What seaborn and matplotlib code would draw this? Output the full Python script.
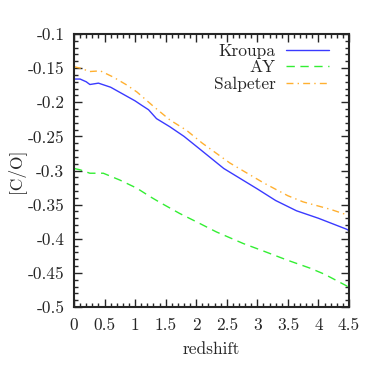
import numpy as np
import pandas as pd
import seaborn as sns
import matplotlib
matplotlib.use('Agg')
import matplotlib.pyplot as plt
from matplotlib.ticker import MultipleLocator, FuncFormatter

# values
z_kroupa = [0.0, 0.1, 0.2, 0.26, 0.4, 0.6, 0.8, 1.0, 1.1, 1.22, 1.35, 1.57, 1.8, 2.05, 2.45, 3.0, 3.3, 3.64, 4.0, 4.46, 4.5]
co_kroupa = [-0.166, -0.166, -0.170, -0.174, -0.172, -0.178, -0.188, -0.198, -0.204, -0.211, -0.224, -0.236, -0.250, -0.268, -0.297, -0.327, -0.344, -0.359, -0.370, -0.386, -0.388]

z_ay = [0.0, 0.1, 0.26, 0.48, 0.75, 1.03, 1.24, 1.41, 1.73, 2.0, 2.33, 2.77, 3.1, 3.48, 3.86, 4.1, 4.46, 4.5]
co_ay = [-0.297, -0.299, -0.304, -0.304, -0.314, -0.326, -0.338, -0.347, -0.363, -0.375, -0.390, -0.407, -0.418, -0.431, -0.443, -0.452, -0.469, -0.472]

z_salp = [0.0, 0.1, 0.26, 0.43, 0.64, 0.85, 1.03, 1.3, 1.57, 1.84, 2.1, 2.55, 3.1, 3.5, 3.75, 4.2, 4.5]
co_salp = [-0.148, -0.150, -0.155, -0.154, -0.163, -0.174, -0.185, -0.206, -0.226, -0.241, -0.260, -0.289, -0.318, -0.337, -0.346, -0.357, -0.366]

sns.set_style('ticks')
plt.rcParams['font.family'] = ['cmr10', 'DejaVu Serif']
plt.rcParams['axes.unicode_minus'] = False
plt.rcParams['font.size'] = 12.5

fig = plt.figure(figsize=(3.74, 3.74), dpi=100)
ax = fig.add_axes([74/374, 67/374, 275/374, 273/374])

sns.lineplot(x=z_kroupa, y=co_kroupa, ax=ax, color='#3a3aff', lw=1.0, label='Kroupa')
sns.lineplot(x=z_ay, y=co_ay, ax=ax, color='#33ee33', lw=1.0, label='AY')
sns.lineplot(x=z_salp, y=co_salp, ax=ax, color='#ffb030', lw=1.0, label='Salpeter')
ax.lines[1].set_dashes([6, 4])
ax.lines[2].set_dashes([5, 3, 1, 3])

ax.set_xlim(0, 4.5)
ax.set_ylim(-0.5, -0.1)
ax.xaxis.set_major_locator(MultipleLocator(0.5))
ax.xaxis.set_minor_locator(MultipleLocator(0.1))
ax.yaxis.set_major_locator(MultipleLocator(0.05))
ax.yaxis.set_minor_locator(MultipleLocator(0.01))
ax.xaxis.set_major_formatter(FuncFormatter(lambda v, p: '%g' % round(v, 2)))
ax.yaxis.set_major_formatter(FuncFormatter(lambda v, p: '%g' % round(v, 2)))
ax.tick_params(which='both', direction='in', top=True, right=True, width=1.0)
ax.tick_params(which='major', length=6, pad=7)
ax.tick_params(axis='x', which='major', pad=8)
ax.tick_params(which='minor', length=3)
for s in ax.spines.values():
    s.set_linewidth(1.5)

ax.set_xlabel('redshift', labelpad=6)
ax.set_ylabel('[C/O]', labelpad=2)

# legend: labels right-aligned, sample line on the right
leg = ax.legend(loc='upper right', bbox_to_anchor=(0.9535, 0.991), frameon=False, markerfirst=False,
                handlelength=2.5, labelspacing=0.08, borderaxespad=0.0, borderpad=0.4, handletextpad=0.6)
for col in leg._legend_handle_box.get_children():
    col.align = 'right'

fig.savefig('out.png', dpi=100)
